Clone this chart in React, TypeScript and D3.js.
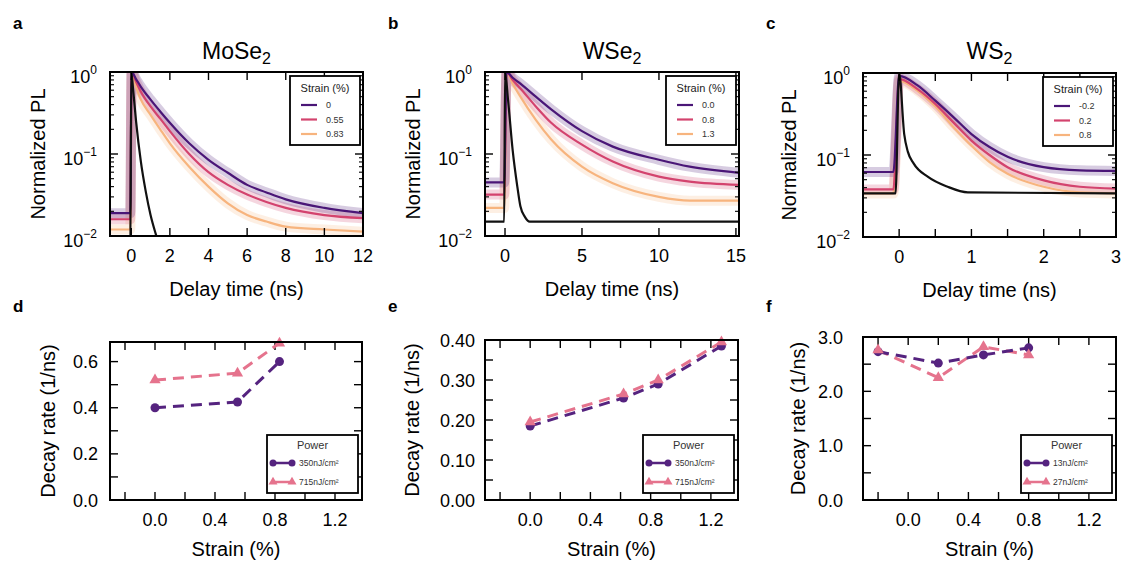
import React from 'react';
import * as d3 from 'd3';

const FONT = "'Liberation Sans', Arial, Helvetica, sans-serif";

// ---------- colours ----------
const PURPLE = '#4a1677';
const PINK = '#d3436e';
const ORANGE = '#f7b47e';
const IRF = '#111111';
const PURPLE_PT = '#55237f';
const PINK_PT = '#e5738d';

// ---------- Panel a : MoSe2 (delay time ns, normalized PL) ----------
const aTimes = [-1.1, -0.05, 0.02, 0.25, 0.5, 1, 1.5, 2, 3, 4, 5, 6, 7, 8, 10, 12];
const aStrain0 = [0.019, 0.019, 1.0, 0.82, 0.66, 0.46, 0.33, 0.24, 0.135, 0.085, 0.059, 0.042, 0.034, 0.028, 0.022, 0.019];
const aStrain055 = [0.016, 0.016, 1.0, 0.76, 0.575, 0.38, 0.27, 0.19, 0.1, 0.06, 0.042, 0.032, 0.026, 0.022, 0.018, 0.0165];
const aStrain083 = [0.012, 0.012, 1.0, 0.66, 0.46, 0.3, 0.2, 0.135, 0.07, 0.04, 0.025, 0.018, 0.015, 0.013, 0.012, 0.0113];
const aIrfTimes = [-1.1, -0.05, 0, 0.1, 0.25, 0.5, 0.75, 1.0, 1.3, 1.6, 12];
const aIrf = [0.005, 0.005, 1.0, 0.6, 0.25, 0.08, 0.035, 0.018, 0.01, 0.006, 0.005];
const aLegend = ['0', '0.55', '0.83'];
const aXTicks = [0, 2, 4, 6, 8, 10, 12];

// ---------- Panel b : WSe2 ----------
const bTimes = [-1.3, -0.05, 0.1, 0.5, 1, 2, 3, 5, 7, 10, 12, 15.2];
const bStrain00 = [0.045, 0.045, 1.0, 0.85, 0.72, 0.5, 0.35, 0.19, 0.123, 0.085, 0.07, 0.059];
const bStrain08 = [0.032, 0.032, 1.0, 0.8, 0.63, 0.38, 0.24, 0.13, 0.081, 0.053, 0.046, 0.042];
const bStrain13 = [0.022, 0.022, 1.0, 0.72, 0.5, 0.26, 0.15, 0.07, 0.044, 0.03, 0.027, 0.027];
const bIrfTimes = [-1.3, -0.05, 0, 0.2, 0.5, 0.8, 1.0, 1.3, 1.6, 15.2];
const bIrf = [0.015, 0.015, 1.0, 0.45, 0.11, 0.04, 0.023, 0.017, 0.015, 0.015];
const bLegend = ['0.0', '0.8', '1.3'];
const bXTicks = [0, 5, 10, 15];

// ---------- Panel c : WS2 ----------
const cTimes = [-0.5, -0.08, 0, 0.25, 0.5, 0.75, 1, 1.25, 1.5, 2, 2.5, 3];
const cStrainM02 = [0.062, 0.062, 0.92, 0.71, 0.46, 0.29, 0.18, 0.125, 0.095, 0.071, 0.065, 0.064];
const cStrain02 = [0.038, 0.038, 0.85, 0.64, 0.42, 0.25, 0.15, 0.1, 0.071, 0.049, 0.041, 0.039];
const cStrain08 = [0.034, 0.034, 0.8, 0.61, 0.39, 0.22, 0.13, 0.082, 0.059, 0.041, 0.035, 0.034];
const cIrfTimes = [-0.5, -0.05, 0, 0.07, 0.12, 0.2, 0.4, 0.67, 0.95, 3];
const cIrf = [0.034, 0.034, 1.0, 0.18, 0.11, 0.079, 0.054, 0.041, 0.035, 0.034];
const cLegend = ['-0.2', '0.2', '0.8'];
const cXTicks = [-0.5, 0, 0.5, 1, 1.5, 2, 2.5, 3];
const cXLabels = [0, 1, 2, 3];

// ---------- Panel d : MoSe2 decay rate ----------
const dStrain350 = [0, 0.55, 0.83];
const dRate350 = [0.4, 0.425, 0.6];
const dStrain715 = [0, 0.55, 0.83];
const dRate715 = [0.52, 0.55, 0.68];
const dPowers = ['350nJ/cm²', '715nJ/cm²'];
const dYTicks = [0, 0.1, 0.2, 0.3, 0.4, 0.5, 0.6];
const dYLabels = [0, 0.2, 0.4, 0.6];

// ---------- Panel e : WSe2 decay rate ----------
const eStrain350 = [0, 0.62, 0.85, 1.27];
const eRate350 = [0.185, 0.255, 0.29, 0.385];
const eStrain715 = [0, 0.62, 0.85, 1.27];
const eRate715 = [0.195, 0.265, 0.3, 0.395];
const ePowers = ['350nJ/cm²', '715nJ/cm²'];
const eYTicks = [0, 0.05, 0.1, 0.15, 0.2, 0.25, 0.3, 0.35, 0.4];
const eYLabels = [0, 0.1, 0.2, 0.3, 0.4];

// ---------- Panel f : WS2 decay rate ----------
const fStrain13 = [-0.2, 0.2, 0.5, 0.8];
const fRate13 = [2.73, 2.52, 2.67, 2.8];
const fStrain27 = [-0.2, 0.2, 0.5, 0.8];
const fRate27 = [2.76, 2.25, 2.82, 2.67];
const fPowers = ['13nJ/cm²', '27nJ/cm²'];
const fYTicks = [0, 0.5, 1, 1.5, 2, 2.5, 3];
const fYLabels = [0, 1, 2, 3];

const strainTicks = [-0.2, 0, 0.2, 0.4, 0.6, 0.8, 1.0, 1.2];
const strainLabels = [0, 0.4, 0.8, 1.2];

type Frame = { l: number; r: number; t: number; b: number };

function TopPanel(props: {
  id: string;
  f: Frame;
  xDomain: [number, number];
  xTicks: number[];
  xLabels: number[];
  times: number[];
  curves: number[][];
  irfTimes: number[];
  irf: number[];
  legend: string[];
  title: string;
  letter: string;
  yLabelX: number;
}) {
  const { id, f, xDomain, xTicks, xLabels, times, curves, irfTimes, irf, legend, title, letter, yLabelX } = props;
  const x = d3.scaleLinear().domain(xDomain).range([f.l, f.r]);
  const y = d3.scaleLog().domain([0.01, 1]).range([f.b, f.t]);
  const line = d3
    .line<[number, number]>()
    .x((d) => x(d[0]))
    .y((d) => y(d[1]))
    .curve(d3.curveMonotoneX);
  const colors = [PURPLE, PINK, ORANGE];
  const order = [2, 1, 0];
  const majors = [0.01, 0.1, 1];
  const minors: number[] = [];
  [0.01, 0.1].forEach((dec) => {
    for (let k = 2; k <= 9; k++) minors.push(dec * k);
  });
  const cx = (f.l + f.r) / 2;
  const cy = (f.t + f.b) / 2;
  const lg = { x: f.r - 73, y: f.t + 4, w: 70, h: 69 };
  return (
    <g>
      <defs>
        <clipPath id={id}>
          <rect x={f.l} y={f.t} width={f.r - f.l} height={f.b - f.t} />
        </clipPath>
      </defs>
      <g clipPath={`url(#${id})`}>
        {order.map((i) => {
          const pts = times.map((t, j) => [t, curves[i][j]] as [number, number]);
          return (
            <path key={i} d={line(pts) || ''} fill="none" stroke={colors[i]} strokeWidth={10} strokeOpacity={0.22} />
          );
        })}
        {order.map((i) => {
          const pts = times.map((t, j) => [t, curves[i][j]] as [number, number]);
          return <path key={i} d={line(pts) || ''} fill="none" stroke={colors[i]} strokeWidth={2.2} />;
        })}
        <path
          d={line(irfTimes.map((t, j) => [t, irf[j]] as [number, number])) || ''}
          fill="none"
          stroke={IRF}
          strokeWidth={2.2}
        />
      </g>
      {/* ticks */}
      {xTicks.map((t) => (
        <g key={'xt' + t} stroke="#000" strokeWidth={1.4}>
          <line x1={x(t)} x2={x(t)} y1={f.b} y2={f.b - 8} />
          <line x1={x(t)} x2={x(t)} y1={f.t} y2={f.t + 8} />
        </g>
      ))}
      {majors.map((v) => (
        <g key={'ym' + v} stroke="#000" strokeWidth={1.4}>
          <line x1={f.l} x2={f.l + 8} y1={y(v)} y2={y(v)} />
          <line x1={f.r} x2={f.r - 8} y1={y(v)} y2={y(v)} />
        </g>
      ))}
      {minors.map((v) => (
        <g key={'yn' + v} stroke="#000" strokeWidth={1.1}>
          <line x1={f.l} x2={f.l + 4} y1={y(v)} y2={y(v)} />
          <line x1={f.r} x2={f.r - 4} y1={y(v)} y2={y(v)} />
        </g>
      ))}
      <rect x={f.l} y={f.t} width={f.r - f.l} height={f.b - f.t} fill="none" stroke="#000" strokeWidth={2} />
      {xLabels.map((t) => (
        <text key={'xl' + t} x={x(t)} y={f.b + 26} textAnchor="middle" fontSize={18} fontFamily={FONT}>
          {String(t)}
        </text>
      ))}
      {[0, -1, -2].map((e) => (
        <text key={'yl' + e} x={f.l - 13} y={y(Math.pow(10, e)) + 11} textAnchor="end" fontSize={18} fontFamily={FONT}>
          10
          <tspan dy={-9} fontSize={12}>
            {e === 0 ? '0' : '−' + String(-e)}
          </tspan>
        </text>
      ))}
      <text x={cx} y={f.b + 60} textAnchor="middle" fontSize={20} fontFamily={FONT}>
        Delay time (ns)
      </text>
      <text
        transform={`translate(${yLabelX},${cy}) rotate(-90)`}
        textAnchor="middle"
        fontSize={20}
        fontFamily={FONT}
      >
        Normalized PL
      </text>
      <text x={cx} y={59} textAnchor="middle" fontSize={23} fontFamily={FONT}>
        {title}
        <tspan dy={5} fontSize={16}>
          2
        </tspan>
      </text>
      <text x={f.l - 97} y={29} fontSize={17} fontWeight="bold" fontFamily={FONT}>
        {letter}
      </text>
      {/* legend */}
      <rect x={lg.x} y={lg.y} width={lg.w} height={lg.h} fill="#fff" stroke="#000" strokeWidth={1.8} />
      <text x={lg.x + lg.w / 2} y={lg.y + 16} textAnchor="middle" fontSize={11} fontFamily={FONT} fill="#222">
        Strain (%)
      </text>
      {legend.map((s, i) => (
        <g key={'lg' + i}>
          <line
            x1={lg.x + 11}
            x2={lg.x + 27}
            y1={lg.y + 29 + i * 14.5}
            y2={lg.y + 29 + i * 14.5}
            stroke={colors[i]}
            strokeWidth={2.2}
          />
          <text x={lg.x + 36} y={lg.y + 32 + i * 14.5} fontSize={9} fontFamily={FONT} fill="#333">
            {s}
          </text>
        </g>
      ))}
    </g>
  );
}

function BottomPanel(props: {
  f: Frame;
  yDomain: [number, number];
  yTicks: number[];
  yLabels: number[];
  yDigits: number;
  yLabelGap: number;
  s1x: number[];
  s1y: number[];
  s2x: number[];
  s2y: number[];
  powers: string[];
  letter: string;
  yLabelX: number;
}) {
  const { f, yDomain, yTicks, yLabels, yDigits, yLabelGap, s1x, s1y, s2x, s2y, powers, letter, yLabelX } = props;
  const x = d3.scaleLinear().domain([-0.3, 1.38]).range([f.l, f.r]);
  const y = d3.scaleLinear().domain(yDomain).range([f.b, f.t]);
  const line = d3
    .line<[number, number]>()
    .x((d) => x(d[0]))
    .y((d) => y(d[1]));
  const p1 = s1x.map((v, i) => [v, s1y[i]] as [number, number]);
  const p2 = s2x.map((v, i) => [v, s2y[i]] as [number, number]);
  const tri = d3.symbol(d3.symbolTriangle, 55);
  const cx = (f.l + f.r) / 2;
  const cy = (f.t + f.b) / 2;
  const lg = { x: f.r - 95, y: 435, w: 91, h: 58 };
  return (
    <g>
      {strainTicks.map((t) => (
        <g key={'xt' + t} stroke="#000" strokeWidth={1.4}>
          <line x1={x(t)} x2={x(t)} y1={f.b} y2={f.b - 8} />
          <line x1={x(t)} x2={x(t)} y1={f.t} y2={f.t + 8} />
        </g>
      ))}
      {yTicks.map((v) => (
        <g key={'yt' + v} stroke="#000" strokeWidth={1.4}>
          <line x1={f.l} x2={f.l + 8} y1={y(v)} y2={y(v)} />
          <line x1={f.r} x2={f.r - 8} y1={y(v)} y2={y(v)} />
        </g>
      ))}
      <path d={line(p2) || ''} fill="none" stroke={PINK_PT} strokeWidth={3} strokeDasharray="11 7" />
      <path d={line(p1) || ''} fill="none" stroke={PURPLE_PT} strokeWidth={3} strokeDasharray="11 7" />
      {p1.map((p, i) => (
        <circle key={'c' + i} cx={x(p[0])} cy={y(p[1])} r={4.5} fill={PURPLE_PT} />
      ))}
      {p2.map((p, i) => (
        <path key={'t' + i} d={tri() || ''} transform={`translate(${x(p[0])},${y(p[1])})`} fill={PINK_PT} />
      ))}
      <rect x={f.l} y={f.t} width={f.r - f.l} height={f.b - f.t} fill="none" stroke="#000" strokeWidth={2} />
      {strainLabels.map((t) => (
        <text key={'xl' + t} x={x(t)} y={f.b + 26} textAnchor="middle" fontSize={18} fontFamily={FONT}>
          {t.toFixed(1)}
        </text>
      ))}
      {yLabels.map((v) => (
        <text key={'yl' + v} x={f.l - yLabelGap} y={y(v) + 6.5} textAnchor="end" fontSize={18} fontFamily={FONT}>
          {v.toFixed(yDigits)}
        </text>
      ))}
      <text x={cx} y={556} textAnchor="middle" fontSize={20} fontFamily={FONT}>
        Strain (%)
      </text>
      <text
        transform={`translate(${yLabelX},${cy}) rotate(-90)`}
        textAnchor="middle"
        fontSize={20}
        fontFamily={FONT}
      >
        Decay rate (1/ns)
      </text>
      <text x={f.l - 97} y={312} fontSize={17} fontWeight="bold" fontFamily={FONT}>
        {letter}
      </text>
      <rect x={lg.x} y={lg.y} width={lg.w} height={lg.h} fill="#fff" stroke="#000" strokeWidth={1.8} />
      <text x={lg.x + lg.w / 2} y={lg.y + 14} textAnchor="middle" fontSize={11} fontFamily={FONT} fill="#333">
        Power
      </text>
      {[0, 1].map((i) => {
        const yy = lg.y + 28 + i * 19;
        const col = i === 0 ? PURPLE_PT : PINK_PT;
        return (
          <g key={'lg' + i}>
            <line x1={lg.x + 6} x2={lg.x + 25} y1={yy} y2={yy} stroke={col} strokeWidth={2.5} />
            {i === 0 ? (
              <>
                <circle cx={lg.x + 6} cy={yy} r={3.5} fill={col} />
                <circle cx={lg.x + 25} cy={yy} r={3.5} fill={col} />
              </>
            ) : (
              <>
                <path d={d3.symbol(d3.symbolTriangle, 35)() || ''} transform={`translate(${lg.x + 6},${yy})`} fill={col} />
                <path d={d3.symbol(d3.symbolTriangle, 35)() || ''} transform={`translate(${lg.x + 25},${yy})`} fill={col} />
              </>
            )}
            <text x={lg.x + 32} y={yy + 3} fontSize={8.5} fontFamily={FONT} fill="#333">
              {powers[i]}
            </text>
          </g>
        );
      })}
    </g>
  );
}

export default function App() {
  return (
    <div style={{ position: 'absolute', left: 0, top: 0 }}>
      <svg width={1124} height={563} viewBox="0 0 1124 563" style={{ display: 'block', background: '#fff' }}>
        <TopPanel
          id="clipA"
          f={{ l: 110, r: 363, t: 72, b: 236 }}
          xDomain={[-1.1, 12]}
          xTicks={aXTicks}
          xLabels={aXTicks}
          times={aTimes}
          curves={[aStrain0, aStrain055, aStrain083]}
          irfTimes={aIrfTimes}
          irf={aIrf}
          legend={aLegend}
          title="MoSe"
          letter="a"
          yLabelX={45}
        />
        <TopPanel
          id="clipB"
          f={{ l: 485, r: 739, t: 72, b: 236 }}
          xDomain={[-1.3, 15.2]}
          xTicks={bXTicks}
          xLabels={bXTicks}
          times={bTimes}
          curves={[bStrain00, bStrain08, bStrain13]}
          irfTimes={bIrfTimes}
          irf={bIrf}
          legend={bLegend}
          title="WSe"
          letter="b"
          yLabelX={420}
        />
        <TopPanel
          id="clipC"
          f={{ l: 863, r: 1116, t: 73, b: 237 }}
          xDomain={[-0.5, 3]}
          xTicks={cXTicks}
          xLabels={cXLabels}
          times={cTimes}
          curves={[cStrainM02, cStrain02, cStrain08]}
          irfTimes={cIrfTimes}
          irf={cIrf}
          legend={cLegend}
          title="WS"
          letter="c"
          yLabelX={796}
        />
        <BottomPanel
          f={{ l: 110, r: 362, t: 342, b: 500 }}
          yDomain={[0, 0.685]}
          yTicks={dYTicks}
          yLabels={dYLabels}
          yDigits={1}
          yLabelGap={12}
          s1x={dStrain350}
          s1y={dRate350}
          s2x={dStrain715}
          s2y={dRate715}
          powers={dPowers}
          letter="d"
          yLabelX={55}
        />
        <BottomPanel
          f={{ l: 485, r: 738, t: 340, b: 500 }}
          yDomain={[0, 0.4]}
          yTicks={eYTicks}
          yLabels={eYLabels}
          yDigits={2}
          yLabelGap={10}
          s1x={eStrain350}
          s1y={eRate350}
          s2x={eStrain715}
          s2y={eRate715}
          powers={ePowers}
          letter="e"
          yLabelX={419}
        />
        <BottomPanel
          f={{ l: 863, r: 1116, t: 337, b: 500 }}
          yDomain={[0, 3]}
          yTicks={fYTicks}
          yLabels={fYLabels}
          yDigits={1}
          yLabelGap={20}
          s1x={fStrain13}
          s1y={fRate13}
          s2x={fStrain27}
          s2y={fRate27}
          powers={fPowers}
          letter="f"
          yLabelX={805}
        />
      </svg>
    </div>
  );
}
